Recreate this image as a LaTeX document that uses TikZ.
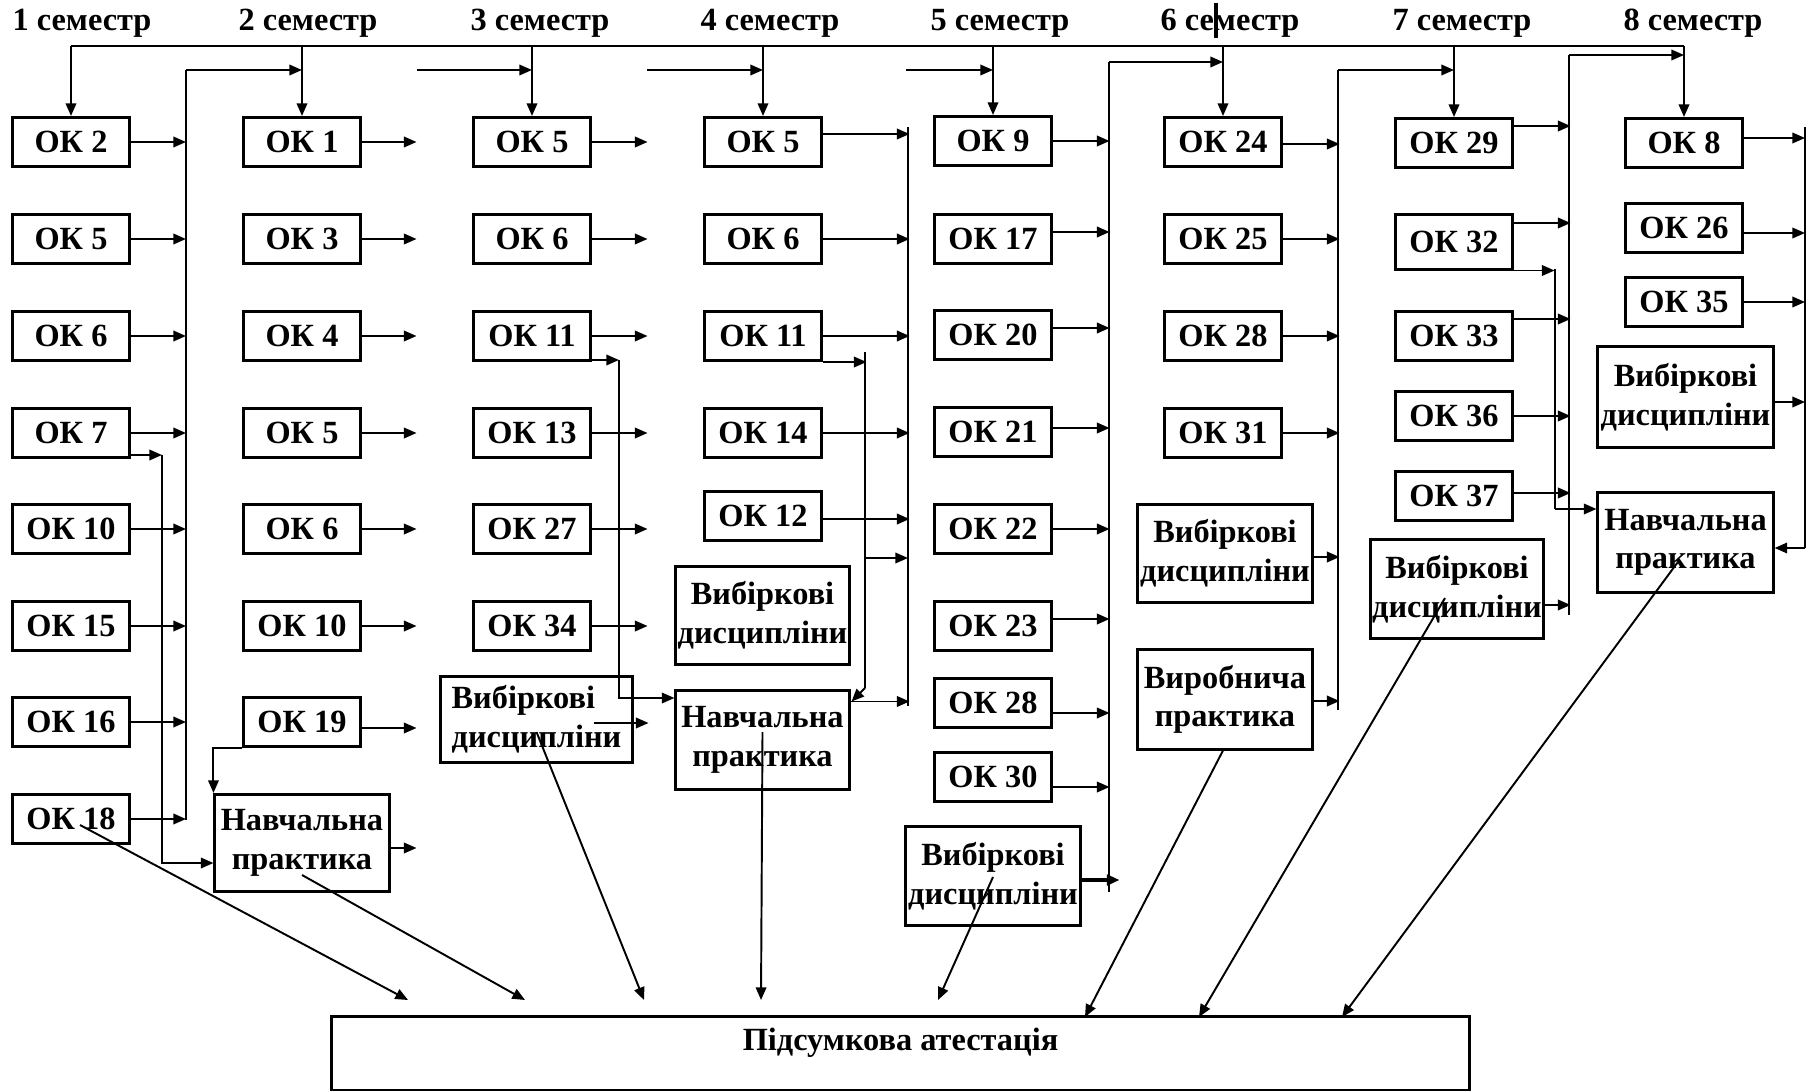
\documentclass[tikz,border=0pt]{standalone}
\usepackage{fontspec}
\setmainfont{Liberation Serif}
\usetikzlibrary{arrows.meta,calc}
\newcommand\myfnt{\fontsize{9.2}{11}\selectfont\bfseries}
\begin{document}
\begin{tikzpicture}[x=0.01cm,y=-0.01cm,
  ok/.style={draw,line width=0.85pt,minimum width=1.16cm,minimum height=0.49cm,inner sep=0pt,font=\myfnt},
  big/.style={draw,line width=0.85pt,inner sep=0pt,align=center,font=\myfnt},
  arr/.style={-{Triangle[length=3.6pt,width=3pt]},line width=0.55pt},
  ln/.style={line width=0.55pt},
  sem/.style={inner sep=0pt,font=\myfnt}]
\fill[white] (0,0) rectangle (1809,1091);
\useasboundingbox (0,0) rectangle (1809,1091);

% semester labels
\foreach \i/\x in {1/82,2/308,3/540,4/770,5/1000,6/1230,7/1462,8/1693}
  \node[sem] (sem\i) at (\x,23) {\i\ семестр};
\draw[line width=1pt] (1216,3) -- (1216,38);

% column 1
\node[ok] (a1) at (71,142) {ОК 2};
\node[ok] (a2) at (71,239) {ОК 5};
\node[ok] (a3) at (71,336) {ОК 6};
\node[ok] (a4) at (71,433) {ОК 7};
\node[ok] (a5) at (71,529) {ОК 10};
\node[ok] (a6) at (71,626) {ОК 15};
\node[ok] (a7) at (71,722) {ОК 16};
\node[ok] (a8) at (71,819) {ОК 18};

% column 2
\node[ok] (b1) at (302,142) {ОК 1};
\node[ok] (b2) at (302,239) {ОК 3};
\node[ok] (b3) at (302,336) {ОК 4};
\node[ok] (b4) at (302,433) {ОК 5};
\node[ok] (b5) at (302,529) {ОК 6};
\node[ok] (b6) at (302,626) {ОК 10};
\node[ok] (b7) at (302,722) {ОК 19};
\node[big,minimum width=1.74cm,minimum height=0.97cm] (bn) at (302,843) {Навчальна\\практика};

% column 3
\node[ok] (c1) at (532,142) {ОК 5};
\node[ok] (c2) at (532,239) {ОК 6};
\node[ok] (c3) at (532,336) {ОК 11};
\node[ok] (c4) at (532,433) {ОК 13};
\node[ok] (c5) at (532,529) {ОК 27};
\node[ok] (c6) at (532,626) {ОК 34};
\node[big,align=left,minimum width=1.91cm,minimum height=0.85cm] (cv) at (536.5,719.5) {Вибіркові\\дисципліни};

% column 4
\node[ok] (d1) at (763,142) {ОК 5};
\node[ok] (d2) at (763,239) {ОК 6};
\node[ok] (d3) at (763,336) {ОК 11};
\node[ok] (d4) at (763,433) {ОК 14};
\node[ok] (d5) at (763,516) {ОК 12};
\node[big,minimum width=1.73cm,minimum height=0.97cm] (dv) at (762.5,615.5) {Вибіркові\\дисципліни};
\node[big,minimum width=1.73cm,minimum height=0.98cm] (dn) at (762.5,740) {Навчальна\\практика};

% column 5
\node[ok] (e1) at (993,141) {ОК 9};
\node[ok] (e2) at (993,239) {ОК 17};
\node[ok] (e3) at (993,335) {ОК 20};
\node[ok] (e4) at (993,432) {ОК 21};
\node[ok] (e5) at (993,529) {ОК 22};
\node[ok] (e6) at (993,626) {ОК 23};
\node[ok] (e7) at (993,703) {ОК 28};
\node[ok] (e8) at (993,777) {ОК 30};
\node[big,minimum width=1.74cm,minimum height=0.98cm] (ev) at (993,876) {Вибіркові\\дисципліни};

% column 6
\node[ok] (f1) at (1223,142) {ОК 24};
\node[ok] (f2) at (1223,239) {ОК 25};
\node[ok] (f3) at (1223,336) {ОК 28};
\node[ok] (f4) at (1223,433) {ОК 31};
\node[big,minimum width=1.74cm,minimum height=0.98cm] (fv) at (1225,553.5) {Вибіркові\\дисципліни};
\node[big,minimum width=1.74cm,minimum height=0.99cm] (fp) at (1225,699.5) {Виробнича\\практика};

% column 7
\node[ok] (g1) at (1454,143) {ОК 29};
\node[ok,minimum height=0.54cm] (g2) at (1454,242) {ОК 32};
\node[ok] (g3) at (1454,336) {ОК 33};
\node[ok] (g4) at (1454,416) {ОК 36};
\node[ok] (g5) at (1454,496) {ОК 37};
\node[big,minimum width=1.72cm,minimum height=0.98cm] (gv) at (1457,589) {Вибіркові\\дисципліни};

% column 8
\node[ok] (h1) at (1684,143) {ОК 8};
\node[ok] (h2) at (1684,228) {ОК 26};
\node[ok] (h3) at (1684,302) {ОК 35};
\node[big,minimum width=1.75cm,minimum height=1.0cm] (hv) at (1685.5,397) {Вибіркові\\дисципліни};
\node[big,minimum width=1.75cm,minimum height=0.99cm] (hn) at (1685.5,542.5) {Навчальна\\практика};

% final
\node[draw,line width=0.85pt,minimum width=11.37cm,minimum height=0.73cm,inner sep=0pt] (pa) at (900.5,1053.5) {};
\node[sem] (pat) at (900.5,1043) {Підсумкова атестація};

% top line
\coordinate (topL) at (71,46);
\coordinate (topR) at (1684,46);
\draw[ln] (topL) -- (topR);
\draw[arr] (topL) -- (a1.north);
\draw[arr] (topR) -- (h1.north);
\foreach \n in {b1,c1,d1,e1,f1,g1}
  \draw[arr] (\n.north |- topL) -- (\n.north);

% column 1 bus
\coordinate (bus1t) at (186,70);
\coordinate (bus1b) at (186,820);
\draw[ln] (bus1b) -- (bus1t);
\draw[arr] (bus1t) -- (bus1t -| b1.north);
\foreach \n in {a1,a2,a3,a4,a5,a6,a7,a8}
  \draw[arr] (\n.east) -- (\n.east -| bus1t);
\coordinate (k7) at (162,455);
\coordinate (k7b) at (162,863);
\draw[arr] (a4.east |- k7) -- (k7);
\draw[arr] (k7) -- (k7b) -- (k7b -| bn.west);

% column 2
\foreach \n in {b1,b2,b3,b4,b5,b6}
  \draw[arr] (\n.east) -- ++(55,0);
\draw[arr] ($(b7.east)+(0,6)$) -- ++(55,0);
\draw[arr] (b7.south west) -| (bn.north west);
\draw[arr] ($(bn.east)+(0,5)$) -- ++(26,0);
\coordinate (s2) at (417,70);
\draw[arr] (s2) -- (s2 -| c1.north);

% column 3
\foreach \n in {c1,c2,c3,c4,c5,c6}
  \draw[arr] (\n.east) -- ++(56,0);
\coordinate (v3) at (619,360);
\coordinate (v3b) at (619,698);
\draw[arr] (c3.east |- v3) -- (v3);
\draw[arr] (v3) -- (v3b) -- (v3b -| dn.west);
\draw[arr] ($(cv.east)+(-40,3.5)$) -- ++(55,0);
\coordinate (s3) at (647,70);
\draw[arr] (s3) -- (s3 -| d1.north);

% column 4
\coordinate (bus4t) at (908,127);
\coordinate (bus4b) at (908,706);
\draw[ln] (bus4t) -- (bus4b);
\draw[arr] ($(d1.east)+(0,-8)$) -- ++(87,0);
\draw[arr] (d2.east) -- ++(87,0);
\draw[arr] (d3.east) -- ++(87,0);
\draw[arr] (d4.east) -- ++(87,0);
\draw[arr] ($(d5.east)+(0,3)$) -- ++(87,0);
\coordinate (v4t) at (865,352);
\coordinate (v4b) at (865,688);
\draw[arr] (d3.south east) -- ++(44,0);
\draw[ln] (v4t) -- (v4b);
\draw[arr] (v4b) -- ($(dn.north east)+(1,12)$);
\draw[arr] (v4t |- 0,558) -- (bus4t |- 0,558);
\draw[arr] ($(dn.north east)+(0,12)$) -- ++(59,0);
\coordinate (s4) at (906,70);
\draw[arr] (s4) -- (s4 -| e1.north);

% column 5
\coordinate (bus5t) at (1109,62);
\coordinate (bus5b) at (1109,892);
\draw[ln] (bus5b) -- (bus5t);
\draw[arr] (bus5t) -- (bus5t -| f1.north);
\draw[arr] (e1.east) -- ++(57,0);
\draw[arr] ($(e2.east)+(0,-7)$) -- ++(57,0);
\draw[arr] ($(e3.east)+(0,-7)$) -- ++(57,0);
\draw[arr] ($(e4.east)+(0,-4)$) -- ++(57,0);
\draw[arr] (e5.east) -- ++(57,0);
\draw[arr] ($(e6.east)+(0,-7)$) -- ++(57,0);
\draw[arr] ($(e7.east)+(0,10)$) -- ++(57,0);
\draw[arr] ($(e8.east)+(0,10)$) -- ++(57,0);
\draw[arr,line width=1pt] ($(ev.east)+(0,4)$) -- ++(38,0);

% column 6
\coordinate (bus6t) at (1338,70);
\coordinate (bus6b) at (1338,710);
\draw[ln] (bus6b) -- (bus6t);
\draw[arr] (bus6t) -- (bus6t -| g1.north);
\draw[arr] ($(f1.east)+(0,2)$) -- ++(57,0);
\draw[arr] (f2.east) -- ++(57,0);
\draw[arr] (f3.east) -- ++(57,0);
\draw[arr] (f4.east) -- ++(57,0);
\draw[arr] ($(fv.east)+(0,3.5)$) -- ++(26,0);
\draw[arr] ($(fp.east)+(0,1.5)$) -- ++(26,0);

% column 7
\coordinate (bus7t) at (1569,55);
\coordinate (bus7b) at (1569,615);
\draw[ln] (bus7b) -- (bus7t);
\draw[arr] (bus7t) -- (bus7t -| h1.north);
\draw[arr] ($(g1.east)+(0,-17)$) -- ++(57,0);
\draw[arr] ($(g2.east)+(0,-19)$) -- ++(57,0);
\draw[arr] ($(g3.east)+(0,-17)$) -- ++(57,0);
\draw[arr] (g4.east) -- ++(57,0);
\draw[arr] ($(g5.east)+(0,-3)$) -- ++(57,0);
\draw[arr] ($(gv.east)+(0,16)$) -- ++(26,0);
\coordinate (v7t) at (1555,269);
\coordinate (v7b) at (1555,509);
\draw[arr] (g2.south east) -- ++(41,0);
\draw[ln] (v7t) -- (v7b);
\draw[arr] (v7b) -- (v7b -| hn.west);

% column 8
\coordinate (bus8t) at (1805,127);
\coordinate (bus8b) at (1805,548);
\draw[ln] (bus8t) -- (bus8b);
\draw[arr] ($(h1.east)+(0,-5)$) -- (bus8t |- 0,138);
\draw[arr] ($(h2.east)+(0,5)$) -- (bus8t |- 0,233);
\draw[arr] (h3.east) -- (bus8t |- 0,302);
\draw[arr] ($(hv.east)+(0,5)$) -- (bus8t |- 0,402);
\draw[arr] (bus8b) -- (bus8b -| hn.east);

% diagonals to final attestation
\coordinate (t1) at (408,1000);
\coordinate (t2) at (525,1000);
\coordinate (t3) at (644,1000);
\coordinate (t4) at (761,1000);
\coordinate (t5) at (938,1000);
\coordinate (t6) at (1085,1017);
\coordinate (t7) at (1199,1017);
\coordinate (t8) at (1342,1017);
\draw[arr] ($(a8.center)+(9,6)$) -- (t1);
\draw[arr] ($(bn.center)+(0,32)$) -- (t2);
\draw[arr] ($(cv.center)+(0,12.5)$) -- (t3);
\draw[arr] ($(dn.center)+(0,-8)$) -- (t4);
\draw[arr] ($(ev.center)+(0,1)$) -- (t5);
\draw[arr] ($(fp.south)+(-2,0)$) -- (t6);
\draw[arr] ($(gv.center)+(-12,9)$) -- (t7);
\draw[arr] ($(hn.center)+(-8,20)$) -- (t8);
\end{tikzpicture}
\end{document}
